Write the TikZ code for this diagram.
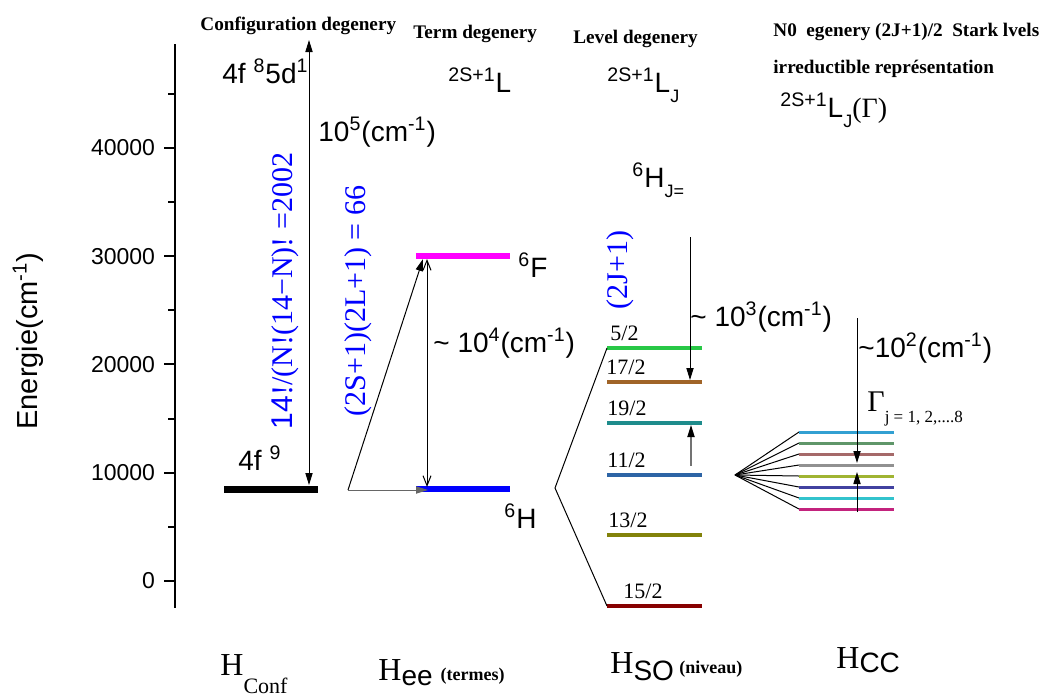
\documentclass[tikz,border=0pt]{standalone}
\usepackage{fontspec}
\setmainfont{Liberation Sans}
\newfontfamily\tnr{Liberation Serif}
\newfontfamily\ars{Liberation Sans}
\usetikzlibrary{arrows.meta}

\definecolor{tmag}{RGB}{255,0,255}
\definecolor{tblue}{RGB}{0,0,255}
\definecolor{lvA}{RGB}{40,200,70}
\definecolor{lvB}{RGB}{160,100,40}
\definecolor{lvC}{RGB}{30,140,140}
\definecolor{lvD}{RGB}{45,100,165}
\definecolor{lvE}{RGB}{130,130,10}
\definecolor{lvF}{RGB}{135,0,0}
\definecolor{skA}{RGB}{50,160,210}
\definecolor{skB}{RGB}{95,150,105}
\definecolor{skC}{RGB}{165,105,105}
\definecolor{skD}{RGB}{145,145,145}
\definecolor{skE}{RGB}{160,180,50}
\definecolor{skF}{RGB}{65,65,160}
\definecolor{skG}{RGB}{50,195,205}
\definecolor{skH}{RGB}{195,35,125}

\begin{document}
\begin{tikzpicture}[x=0.5pt, y=-0.5pt,
		lab/.style={font=\fontsize{14}{16}\selectfont, inner sep=0pt, anchor=base west},
		ticklab/.style={font=\fontsize{11.5}{13}\selectfont, inner sep=0pt},
		head/.style={font=\tnr\bfseries\fontsize{9.6}{11}\selectfont, inner sep=0pt, anchor=base west},
		jlab/.style={font=\tnr\fontsize{11}{12}\selectfont, inner sep=0pt, anchor=base west},
		blab/.style={font=\tnr\fontsize{15}{17}\selectfont, text=tblue, rotate=90, inner sep=0pt},
		hlab/.style={font=\tnr\fontsize{16}{18}\selectfont, inner sep=0pt, anchor=base west},
		arr/.style={-{Triangle[length=6pt,width=3.6pt]}, line width=0.5pt},
		darr/.style={{Triangle[length=6pt,width=3.6pt]}-{Triangle[length=6pt,width=3.6pt]}, line width=0.5pt},
		oarr/.style={{Straight Barb[length=5pt,width=4pt]}-{Straight Barb[length=5pt,width=4pt]}, line width=0.5pt}]
	\useasboundingbox (0,0) rectangle (1044,697);

	% energy axis
	\draw[line width=1pt] (175,44) -- (175,608);
	\foreach \k/\v in {0/0,1/10000,2/20000,3/30000,4/40000}
		\draw[line width=1pt] (175,581-108.3*\k) -- (164,581-108.3*\k) node[left=4pt, ticklab] (t\k) {\v};
	\foreach \k in {0.5,1.5,2.5,3.5,4.5}
		\draw[line width=1pt] (175,581-108.3*\k) -- (168,581-108.3*\k);
	\node[rotate=90, inner sep=0pt, font=\fontsize{14.5}{16}\selectfont] (elab) at (28,341) {Energie(cm\textsuperscript{-1})};

	% headers
	\node[head] (hconfig) at (200,30) {Configuration degenery};
	\node[head] (hterm) at (413,38) {Term degenery};
	\node[head] (hlevel) at (573,43) {Level degenery};
	\node[head] (hstark) at (773,36) {N0\ \ egenery (2J+1)/2\ \ Stark lvels};
	\node[head] (hirr) at (773,73) {irreductible représentation};

	% configuration
	\coordinate (cfL) at (224,489);
	\coordinate (cfR) at (318,489);
	\coordinate (cfT) at (309,40);
	\coordinate (cfB) at (309,485);
	\draw[line width=3.5pt] (cfL) -- (cfR);
	\draw[darr] (cfT) -- (cfB);
	\node[lab] (f9) at (238,470) {4f \textsuperscript{9}};
	\node[lab] (f8) at (222,83) {4f \textsuperscript{8}5d\textsuperscript{1}};
	\node[lab] (dE5) at (318,141) {10\textsuperscript{5}(cm\textsuperscript{-1})};
	\node[blab] (gconf) at (285,291) {\ars 14\tnr!/(N!(14−N)! =2002};

	% terms
	\coordinate (hL) at (416,489);
	\coordinate (hR) at (510,489);
	\coordinate (fL) at (416,256);
	\coordinate (fR) at (510,256);
	\draw[line width=3pt, tblue] (hL) -- (hR);
	\draw[line width=3pt, tmag] (fL) -- (fR);
	\coordinate (split) at (348,490);
	\coordinate (fin) at (423,259);
	\coordinate (hin) at (428,490);
	\coordinate (gapT) at (427,259);
	\coordinate (gapB) at (427,487);
	\draw[arr] (split) -- (fin);
	\draw[arr, black!60] (split) -- (hin);
	\draw[oarr] (gapT) -- (gapB);
	\node[lab] (sF) at (518,277) {\textsuperscript{6}F};
	\node[lab] (sH) at (504,528) {\textsuperscript{6}H};
	\node[lab] (dE4) at (433,352) {\textasciitilde\ 10\textsuperscript{4}(cm\textsuperscript{-1})};
	\node[blab] (gterm) at (358,301) {(2S+1)(2L+1) = 66};
	\node[lab] (tL) at (448,92) {\textsuperscript{2S+1}L};

	% levels
	\node[lab] (tLJ) at (607,92) {\textsuperscript{2S+1}L\raisebox{-5pt}{\fontsize{9}{10}\selectfont J}};
	\node[lab] (tHJ) at (632,187) {\textsuperscript{6}H\raisebox{-5pt}{\fontsize{9}{10}\selectfont J=}};
	\foreach \j/\yy/\cc/\xx in {5/348/lvA/610, 17/382/lvB/606, 19/423/lvC/607, 11/475/lvD/607, 13/535/lvE/608, 15/606/lvF/623}{
		\coordinate (jl\j) at (607,\yy);
		\draw[line width=2pt, \cc] (jl\j) -- (702,\yy);
		\node[jlab] (jn\j) at (\xx,\yy-8) {\j/2};
	}
	\coordinate (soapex) at (555,488);
	\draw[line width=0.5pt] (jl5) -- (soapex) -- (jl15);
	\coordinate (soT) at (690,237);
	\coordinate (soB) at (690,380);
	\coordinate (soU) at (691,466);
	\coordinate (soV) at (691,425);
	\draw[arr] (soT) -- (soB);
	\draw[-{Triangle[length=6pt,width=3.6pt,black]}, line width=0.6pt, black!55] (soU) -- (soV);
	\node[lab] (dE3) at (690,326) {\textasciitilde\ 10\textsuperscript{3}(cm\textsuperscript{-1})};
	\node[blab] (gso) at (620,270) {(2J+1)};

	% stark levels
	\node[lab] (tLG) at (780,117) {\textsuperscript{2S+1}L\raisebox{-5pt}{\fontsize{9}{10}\selectfont J}{\tnr(Γ)}};
	\coordinate (ccapex) at (735,475);
	\foreach \yy/\cc [count=\i] in {432/skA,443/skB,454/skC,465/skD,476/skE,487/skF,498/skG,509/skH}{
		\coordinate (sk\i) at (799,\yy);
		\draw[line width=0.5pt] (ccapex) -- (sk\i);
		\draw[line width=1.5pt, \cc] (sk\i) -- (894,\yy);
	}
	\coordinate (ccT) at (857,318);
	\coordinate (ccM) at (857,463);
	\coordinate (ccB) at (857,512);
	\coordinate (ccN) at (857,472);
	\draw[arr] (ccT) -- (ccM);
	\draw[arr] (ccB) -- (ccN);
	\node[lab] (dE2) at (858,357) {\textasciitilde10\textsuperscript{2}(cm\textsuperscript{-1})};
	\node[inner sep=0pt, anchor=base west, font=\tnr\fontsize{15}{17}\selectfont] (gam) at (867,411) {Γ\raisebox{-5.5pt}{\fontsize{8.5}{10}\selectfont j = 1, 2,....8}};

	% hamiltonians
	\node[hlab] (hcf) at (220,675) {H\raisebox{-9pt}{\fontsize{11}{12}\selectfont Conf}};
	\node[hlab] (hee) at (378,680) {H\raisebox{-2.5pt}{\ars\fontsize{14}{15}\selectfont ee}\ {\bfseries\fontsize{9}{10}\selectfont (termes)}};
	\node[hlab] (hso) at (610,673) {H\raisebox{-3.5pt}{\ars\fontsize{14}{15}\selectfont SO}\,{\bfseries\fontsize{9}{10}\selectfont (niveau)}};
	\node[hlab] (hcc) at (836,668) {H\raisebox{-2pt}{\ars\fontsize{14}{15}\selectfont CC}};

\end{tikzpicture}
\end{document}
